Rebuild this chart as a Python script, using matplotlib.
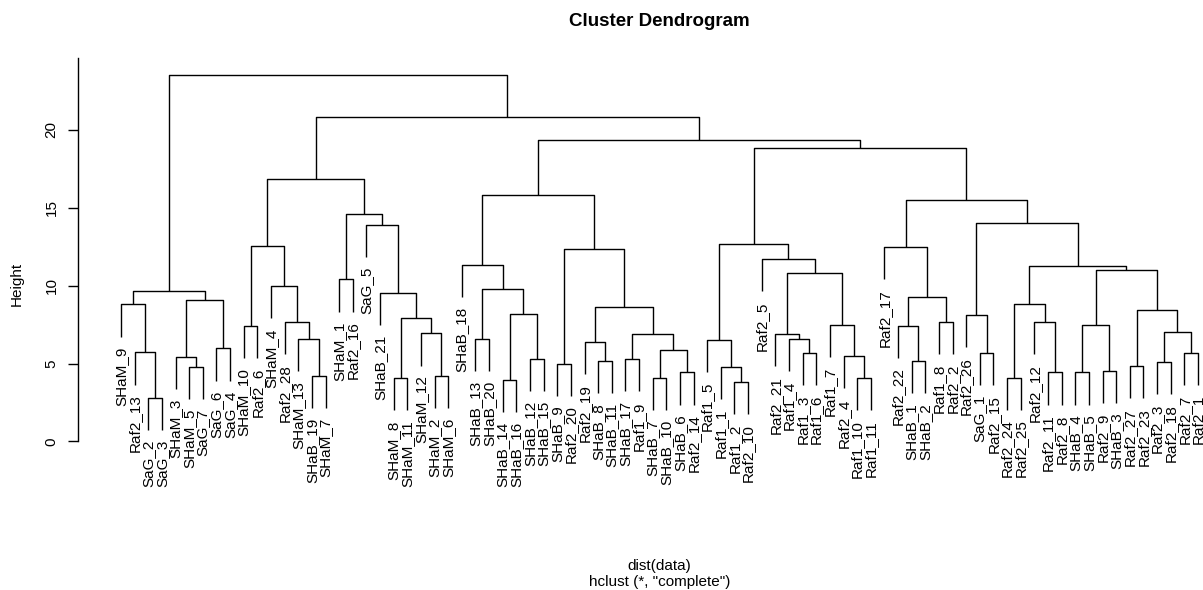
import matplotlib
matplotlib.use("Agg")
import matplotlib.pyplot as plt

plt.rcParams['font.family'] = ['Liberation Sans', 'DejaVu Sans']

# leaf labels in dendrogram order
labels = [
    "SHaM_9", "Raf2_13", "SaG_2", "SaG_3", "SHaM_3", "SHaM_5", "SaG_7", "SaG_6", "SaG_4",
    "SHaM_10", "Raf2_6", "SHaM_4", "Raf2_28", "SHaM_13", "SHaB_19", "SHaM_7", "SHaM_1",
    "Raf2_16", "SaG_5", "SHaB_21", "SHaM_8", "SHaM_11", "SHaM_12", "SHaM_2", "SHaM_6",
    "SHaB_18", "SHaB_13", "SHaB_20", "SHaB_14", "SHaB_16", "SHaB_12", "SHaB_15", "SHaB_9",
    "Raf2_20", "Raf2_19", "SHaB_8", "SHaB_11", "SHaB_17", "Raf1_9", "SHaB_7", "SHaB_10",
    "SHaB_6", "Raf2_14",
    "Raf1_5", "Raf1_1", "Raf1_2", "Raf2_10", "Raf2_5", "Raf2_21", "Raf1_4", "Raf1_3",
    "Raf1_6", "Raf1_7", "Raf2_4", "Raf1_10", "Raf1_11",
    "Raf2_17", "Raf2_22", "SHaB_1", "SHaB_2", "Raf1_8", "Raf2_2", "Raf2_26", "SaG_1",
    "Raf2_15", "Raf2_24", "Raf2_25", "Raf2_12", "Raf2_11", "Raf2_8", "SHaB_4", "SHaB_5",
    "Raf2_9", "SHaB_3", "Raf2_27", "Raf2_23", "Raf2_3", "Raf2_18", "Raf2_7", "Raf2_1",
]

# merges: a string is a leaf, an int is an earlier merge
merges = [
    ("SaG_2", "SaG_3"), ("Raf2_13", 0), ("SHaM_9", 1), ("SHaM_5", "SaG_7"), ("SHaM_3", 3),
    ("SaG_6", "SaG_4"), (4, 5), (2, 6),
    ("SHaM_10", "Raf2_6"), ("SHaB_19", "SHaM_7"), ("SHaM_13", 9), ("Raf2_28", 10),
    ("SHaM_4", 11), (8, 12), ("SHaM_1", "Raf2_16"), ("SHaM_8", "SHaM_11"),
    ("SHaM_2", "SHaM_6"), ("SHaM_12", 16), (15, 17), ("SHaB_21", 18), ("SaG_5", 19),
    (14, 20), (13, 21),
    ("SHaB_13", "SHaB_20"), ("SHaB_14", "SHaB_16"), ("SHaB_12", "SHaB_15"), (24, 25),
    (23, 26), ("SHaB_18", 27), ("SHaB_9", "Raf2_20"), ("SHaB_8", "SHaB_11"),
    ("Raf2_19", 30), ("SHaB_17", "Raf1_9"), ("SHaB_7", "SHaB_10"), ("SHaB_6", "Raf2_14"),
    (33, 34), (32, 35), (31, 36), (29, 37), (28, 38),
    ("Raf1_2", "Raf2_10"), ("Raf1_1", 40), ("Raf1_5", 41), ("Raf1_3", "Raf1_6"),
    ("Raf1_4", 43), ("Raf2_21", 44), ("Raf1_10", "Raf1_11"), ("Raf2_4", 46),
    ("Raf1_7", 47), (45, 48), ("Raf2_5", 49), (42, 50),
    ("SHaB_1", "SHaB_2"), ("Raf2_22", 52), ("Raf1_8", "Raf2_2"), (53, 54), ("Raf2_17", 55),
    ("SaG_1", "Raf2_15"), ("Raf2_26", 57), ("Raf2_24", "Raf2_25"), ("Raf2_11", "Raf2_8"),
    ("Raf2_12", 60), (59, 61), ("SHaB_4", "SHaB_5"), ("Raf2_9", "SHaB_3"), (63, 64),
    ("Raf2_27", "Raf2_23"), ("Raf2_3", "Raf2_18"), ("Raf2_7", "Raf2_1"), (67, 68),
    (66, 69), (65, 70), (62, 71), (58, 72), (56, 73),
    (51, 74), (39, 75), (22, 76), (7, 77),
]

heights = [
    2.82, 5.72, 8.80, 4.79, 5.45, 5.98, 9.06, 9.66,
    7.42, 4.19, 6.58, 7.67, 9.96, 12.56, 10.40, 4.06, 4.21, 6.94, 7.93, 9.51, 13.91,
    14.62, 16.86,
    6.58, 3.95, 5.28, 8.21, 9.79, 11.33, 5.00, 5.15, 6.37, 5.28, 4.08, 4.44, 5.85,
    6.90, 8.63, 12.35, 15.81,
    3.83, 4.81, 6.54, 5.69, 6.58, 6.90, 4.06, 5.47, 7.48, 10.79, 11.69, 12.69,
    5.15, 7.44, 7.67, 9.27, 12.46, 5.69, 8.10, 4.10, 4.44, 7.67, 8.83, 4.44, 4.55,
    7.48, 4.83, 5.11, 5.69, 7.03, 8.42, 11.03, 11.28, 14.00, 15.47,
    18.85, 19.36, 20.83, 23.50,
]

W, H = 1203, 590
fig = plt.figure(figsize=(W / 100, H / 100), dpi=100)
# plot region in pixels: x 78 -> 1241, y 58 -> 521
ax = fig.add_axes([78 / W, 1 - 521 / H, (1241 - 78) / W, (521 - 58) / H])

n = len(labels)
pad = 0.04 * (n - 1)
ax.set_xlim(-pad, n - 1 + pad)
ax.set_ylim(-5.1, 24.6)

hang = 0.1 * (max(heights) - min(heights))
leaf_x = {lab: i for i, lab in enumerate(labels)}
node_x = []

for k, (a, b) in enumerate(merges):
    h = heights[k]
    xs, tops = [], []
    for c in (a, b):
        if isinstance(c, str):
            x = leaf_x[c]
            top = h - hang
            ax.annotate(c, (x, top), xytext=(0, -7), textcoords='offset points',
                        rotation=90, ha='center', va='top', fontsize=11,
                        annotation_clip=False)
        else:
            x = node_x[c]
            top = heights[c]
        xs.append(x)
        tops.append(top)
    ax.plot([xs[0], xs[0], xs[1], xs[1]], [tops[0], h, h, tops[1]],
            color='black', lw=1.0, solid_capstyle='butt', clip_on=False)
    node_x.append((xs[0] + xs[1]) / 2)

for s in ['top', 'right', 'bottom']:
    ax.spines[s].set_visible(False)
ax.spines['left'].set_bounds(0, 24.6)
ax.spines['left'].set_linewidth(1.0)
ax.set_xticks([])
ax.set_yticks([0, 5, 10, 15, 20])
ax.tick_params(axis='y', length=7, width=1.0, labelsize=11, pad=7)
for t in ax.get_yticklabels():
    t.set_rotation(90)
    t.set_va('center')

fig.text(659.5 / W, 1 - 22 / H, "Cluster Dendrogram", ha='center', va='center',
         fontsize=13.5, fontweight='bold')
fig.text(17 / W, 1 - 284 / H, "Height", rotation=90, ha='center', va='center', fontsize=11)
fig.text(659.5 / W, 1 - 566 / H, "dist(data)", ha='center', va='center', fontsize=11)
fig.text(659.5 / W, 1 - 582 / H, 'hclust (*, "complete")', ha='center', va='center', fontsize=11)

fig.savefig("out.png", dpi=100)
